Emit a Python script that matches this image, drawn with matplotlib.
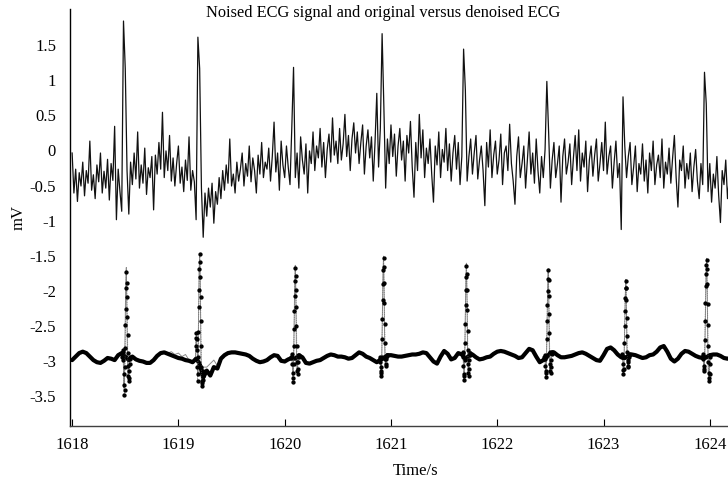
import numpy as np
import matplotlib
matplotlib.use("Agg")
import matplotlib.pyplot as plt

# ---------------- data ----------------
t_start = 1618.0

# noised ECG (top trace), sampled at 60 Hz, mV
noisy_fs = 60.0
noisy_mv = [
    -0.05, -0.62, -0.28, -0.74, -0.33, -0.52, -0.18, -0.66, -0.30, -0.48,
    0.12, -0.58, -0.36, -0.70, -0.22, -0.46, -0.05, -0.62, -0.31, -0.55,
    -0.14, -0.72, -0.20, -0.44, 0.33, -1.00, -0.28, -0.60, -0.88,
    1.83, 1.15, -0.30, -0.92,
    -0.18, -0.50, -0.05, -0.42, 0.25, -0.55, -0.22, -0.48, 0.02, -0.64, -0.26, -0.40, -0.10,
    -0.86, -0.08, -0.35, 0.10, -0.28, 0.53, -0.40, -0.02, -0.30, 0.20, -0.45, -0.12,
    -0.52, -0.20, 0.05, -0.48, -0.25, -0.60, -0.15, -0.44, 0.18, -0.58, -0.30, -0.46, -1.00,
    1.60, 1.15, -0.55, -1.25,
    -0.62, -0.95, -0.55, -0.82, -0.48, -1.05, -0.60, -0.78, -0.40, -0.70,
    -0.30, -0.58, -0.22, -0.48, 0.15, -0.52, -0.35, -0.62, -0.18, -0.45, -0.28,
    -0.05, -0.52, -0.20, -0.38, 0.05, -0.46, -0.12, -0.30, -0.62, -0.08, -0.35, 0.10, -0.40, -0.18, -0.28,
    0.02, -0.45, -0.10, 0.39, -0.32, -0.05, -0.58, 0.12, -0.22, -0.40, 0.05, -0.25, -0.50, 0.30,
    1.17,
    -0.40, -0.05, -0.55, 0.18, -0.15, -0.35, 0.08, -0.62, -0.02, -0.20, 0.25, -0.30, 0.05,
    -0.12, 0.30, -0.25, 0.10, -0.40, 0.00, 0.22, -0.18, 0.45, -0.08, 0.12, -0.20,
    0.30, -0.15, 0.08, 0.50, -0.10, 0.20, -0.30, 0.15, 0.38, -0.05, 0.25, -0.20,
    0.10, 0.35, -0.35, 0.05, 0.28, -0.12, 0.18, -0.45, 0.10, 0.80, -0.25, 0.30,
    1.65, 0.60,
    -0.55, 0.15, -0.20, 0.35, -0.10, 0.22, -0.38, 0.05, 0.30, -0.15, 0.12, -0.45,
    0.20, -0.05, 0.40, -0.25, -0.68, 0.10, -0.30, 0.50, -0.12, 0.28, -0.40, 0.02,
    -0.20, 0.15, -0.35, -0.75, 0.05, -0.22, 0.25, -0.40, 0.00, -0.18,
    0.30, -0.30, 0.08, -0.45, -0.05, 0.20, -0.28, 0.10, -0.50, -0.10,
    1.43, 0.85,
    -0.45, -0.10, 0.15, -0.35, -0.05, 0.20, -0.42, -0.15, 0.05, -0.30, -0.80, 0.10, -0.25, 0.28,
    -0.40, -0.08, 0.12, -0.35, -0.15, 0.22, -0.50, -0.05, 0.05, -0.30, 0.36, -0.20, -0.45, -0.78,
    -0.10, 0.18, -0.40, -0.20, 0.05, -0.55, -0.15, 0.25, -0.35, -0.05, -0.48, 0.15, -0.30,
    -0.62, -0.10, -0.40, 0.00,
    0.97, 0.25,
    -0.55, -0.15, 0.10, -0.40, -0.20, 0.05, -0.75, -0.10, 0.15, -0.35,
    -0.18, 0.08, -0.50, -0.12, 0.20, -0.30, 0.28, -0.45, -0.05, -0.25,
    0.12, -0.60, -0.15, 0.05, -0.38, -0.08, 0.15, -0.45, -0.20, 0.10,
    -0.30, 0.39, -0.35, -0.10, 0.05, -0.55, -0.18, 0.12, -0.40, -0.20,
    -1.14,
    0.75, 0.05,
    -0.40, -0.10, 0.10, -0.50, -0.25, 0.05, -0.60, -0.20, -0.35, 0.08, -0.45,
    -0.15, -0.62, -0.05, -0.30, 0.12, -0.50, -0.22, -0.08, -0.40, 0.15, -0.55,
    -0.18, -0.35, 0.02, -0.48, -0.12, 0.20, -0.40, -0.82, -0.15, -0.30, 0.05,
    -0.55, -0.20, -0.42, -0.05, -0.60, -0.25, 0.00, -0.45, -0.70, -0.20, -0.50,
    1.10, 0.65, -0.60,
    -0.20, -0.75, -0.35, -0.55, -0.10, -0.65, -1.04, -0.30, -0.50, -0.15, -0.70, -0.40, -0.80,
]

# lower traces: slow baseline at 30 Hz (mV, already offset by -3 mV)
base_fs = 30.0
denoised_base = [
    -3.00, -2.95, -2.90, -2.88, -2.90, -2.95, -3.00, -3.03, -3.04, -3.01,
    -2.97, -2.98, -3.00, -2.93, -2.90, -2.95, -3.00, -2.95, -2.99, -3.01,
    -3.02, -3.04, -3.04, -3.00, -2.94, -2.90, -2.89, -2.91, -2.93, -2.95,
    -2.97, -2.98, -3.00, -3.01, -3.03, -2.98, -3.05, -3.25, -3.15, -3.22,
    -3.10, -3.12, -2.98, -2.93, -2.90, -2.89, -2.89, -2.90, -2.91, -2.92,
    -2.94, -2.98, -3.01, -3.03, -3.02, -3.00, -2.96, -2.93, -2.94, -3.01,
    -3.02, -2.99, -2.97, -2.98, -2.93, -2.96, -3.04, -3.05, -3.03, -3.01,
    -3.00, -2.97, -2.94, -2.92, -2.93, -2.95, -2.95, -2.96, -2.98, -2.97,
    -2.93, -2.89, -2.91, -2.95, -2.97, -3.00, -3.03, -3.00, -2.97, -2.93,
    -2.93, -2.94, -2.95, -2.95, -2.94, -2.93, -2.92, -2.92, -2.91, -2.89,
    -2.90, -2.96, -3.02, -3.05, -2.95, -2.87, -2.91, -2.99, -2.97, -2.90,
    -2.92, -2.98, -2.94, -2.92, -2.96, -2.99, -2.98, -2.96, -2.95, -2.91,
    -2.88, -2.87, -2.88, -2.90, -2.92, -2.94, -2.97, -2.96, -2.90, -2.84,
    -2.86, -2.95, -3.03, -3.00, -2.95, -2.90, -2.89, -2.93, -2.96, -2.96,
    -2.95, -2.94, -2.92, -2.90, -2.89, -2.91, -2.94, -2.97, -3.00, -3.01,
    -2.93, -2.84, -2.82, -2.86, -2.92, -2.96, -2.97, -2.94, -2.92, -2.93,
    -2.95, -2.97, -2.96, -2.93, -2.92, -2.88, -2.82, -2.80, -2.88, -2.98,
    -3.02, -2.98, -2.91, -2.87, -2.88, -2.91, -2.94, -2.96, -2.97, -2.96,
    -2.93, -2.92, -2.92, -2.94, -2.97, -2.98, -2.97,
]
original_base = [
    -3.02, -2.96, -2.91, -2.87, -2.91, -2.94, -3.01, -3.02, -3.05, -3.00,
    -2.96, -2.99, -2.99, -2.92, -2.88, -2.97, -3.01, -2.94, -3.00, -3.00,
    -3.03, -3.03, -3.05, -2.99, -2.95, -2.89, -2.90, -2.90, -2.88, -2.92,
    -2.90, -2.95, -2.92, -3.00, -3.02, -2.96, -3.04, -3.22, -3.10, -3.05,
    -3.00, -3.08, -2.95, -2.92, -2.91, -2.88, -2.90, -2.89, -2.92, -2.91,
    -2.95, -2.97, -3.02, -3.02, -3.03, -2.99, -2.97, -2.92, -2.95, -3.00,
    -3.03, -2.98, -2.98, -2.99, -2.92, -2.97, -3.03, -3.06, -3.02, -3.02,
    -2.99, -2.98, -2.93, -2.93, -2.92, -2.96, -2.94, -2.97, -2.97, -2.98,
    -2.92, -2.90, -2.90, -2.96, -2.96, -3.01, -3.02, -3.01, -2.96, -2.94,
    -2.92, -2.95, -2.94, -2.96, -2.93, -2.94, -2.91, -2.93, -2.90, -2.90,
    -2.91, -2.95, -3.03, -3.04, -2.96, -2.88, -2.90, -3.00, -2.96, -2.91,
    -2.93, -2.97, -2.95, -2.91, -2.97, -2.98, -2.99, -2.95, -2.96, -2.90,
    -2.89, -2.86, -2.89, -2.89, -2.93, -2.93, -2.98, -2.95, -2.91, -2.85,
    -2.87, -2.94, -3.02, -3.01, -2.94, -2.91, -2.88, -2.94, -2.95, -2.97,
    -2.94, -2.95, -2.91, -2.91, -2.88, -2.92, -2.93, -2.98, -2.99, -3.02,
    -2.92, -2.85, -2.81, -2.87, -2.91, -2.97, -2.96, -2.95, -2.91, -2.94,
    -2.94, -2.98, -2.95, -2.94, -2.91, -2.89, -2.83, -2.79, -2.89, -2.97,
    -3.03, -2.97, -2.92, -2.86, -2.89, -2.90, -2.95, -2.95, -2.98, -2.95,
    -2.94, -2.91, -2.93, -2.93, -2.98, -2.97, -2.98,
]

# QRS complexes of the lower traces
beat_r_times = [1618.51, 1619.20, 1620.10, 1620.93, 1621.71, 1622.48, 1623.21, 1623.97]
qrs_den_fs = 360.0
qrs_den_r_index = 14
qrs_denoised = [
    [-2.95, -2.90, -2.85, -2.88, -3.00, -3.20, -3.35, -3.50, -3.42, -3.10, -2.83, -2.50, -2.27, -1.98,
     -1.75, -1.90, -2.10, -2.38, -2.64, -2.90, -3.08, -3.22, -3.30, -3.25, -3.15, -3.05, -2.98, -2.95],
    [-2.98, -2.80, -2.68, -2.62, -2.70, -2.85, -3.10, -3.30, -3.20, -2.95, -2.60, -2.25, -2.00, -1.70,
     -1.49, -1.60, -1.82, -2.10, -2.45, -2.80, -3.10, -3.30, -3.37, -3.32, -3.22, -3.28, -3.20, -3.15],
    [-2.97, -2.95, -2.92, -2.96, -3.05, -3.18, -3.31, -3.25, -3.05, -2.80, -2.55, -2.30, -2.08, -1.88,
     -1.69, -1.80, -2.00, -2.25, -2.52, -2.80, -3.02, -3.15, -3.20, -3.12, -3.02, -2.96, -2.94, -2.93],
    [-3.00, -2.98, -2.96, -3.02, -3.10, -3.18, -3.22, -3.15, -2.95, -2.70, -2.42, -2.15, -1.92, -1.72,
     -1.55, -1.68, -1.90, -2.18, -2.48, -2.75, -2.98, -3.08, -3.05, -2.98, -2.95, -2.94, -2.93, -2.93],
    [-2.92, -2.90, -2.88, -2.95, -3.08, -3.20, -3.29, -3.22, -3.00, -2.75, -2.48, -2.22, -2.00, -1.82,
     -1.66, -1.78, -2.00, -2.28, -2.58, -2.85, -3.05, -3.18, -3.22, -3.12, -3.00, -2.93, -2.90, -2.90],
    [-2.98, -2.96, -2.93, -2.98, -3.08, -3.18, -3.24, -3.15, -2.95, -2.70, -2.45, -2.22, -2.02, -1.85,
     -1.72, -1.86, -2.08, -2.35, -2.62, -2.88, -3.05, -3.15, -3.18, -3.10, -3.00, -2.92, -2.88, -2.88],
    [-2.96, -2.94, -2.92, -2.96, -3.05, -3.14, -3.20, -3.12, -2.95, -2.75, -2.52, -2.30, -2.12, -1.98,
     -1.88, -1.98, -2.15, -2.40, -2.65, -2.88, -3.02, -3.10, -3.08, -3.00, -2.95, -2.93, -2.92, -2.92],
    [-2.96, -2.94, -2.92, -2.98, -3.08, -3.15, -3.12, -2.95, -2.72, -2.45, -2.18, -1.95, -1.78, -1.65,
     -1.57, -1.70, -1.92, -2.20, -2.50, -2.80, -3.02, -3.18, -3.25, -3.30, -3.20, -3.05, -2.96, -2.93],
]
qrs_orig_fs = 180.0
qrs_orig_r_index = 7
qrs_original = [
    [-2.95, -2.90, -3.05, -3.40, -3.20, -2.60, -1.90, -1.68, -2.30, -3.00, -3.28, -3.15, -3.00, -2.95],
    [-2.95, -2.70, -2.82, -2.82, -3.20, -2.40, -1.75, -1.50, -1.90, -2.80, -3.35, -3.30, -3.20, -3.10],
    [-2.96, -2.94, -3.05, -3.28, -3.10, -2.50, -1.90, -1.65, -2.20, -2.90, -3.18, -3.05, -2.95, -2.93],
    [-3.00, -2.97, -3.08, -3.20, -3.00, -2.40, -1.80, -1.52, -2.05, -2.80, -3.08, -3.00, -2.95, -2.93],
    [-2.92, -2.90, -3.05, -3.27, -3.05, -2.45, -1.85, -1.62, -2.15, -2.90, -3.20, -3.05, -2.93, -2.90],
    [-2.97, -2.95, -3.05, -3.22, -3.00, -2.45, -1.95, -1.70, -2.25, -2.92, -3.16, -3.02, -2.92, -2.88],
    [-2.95, -2.93, -3.02, -3.18, -3.00, -2.55, -2.10, -1.85, -2.30, -2.90, -3.08, -2.98, -2.93, -2.92],
    [-2.95, -2.93, -3.05, -3.14, -2.90, -2.30, -1.80, -1.55, -2.00, -2.80, -3.22, -3.28, -3.05, -2.93],
]

x_ticks = [1618, 1619, 1620, 1621, 1622, 1623, 1624]
y_ticks = [1.5, 1, 0.5, 0, -0.5, -1, -1.5, -2, -2.5, -3, -3.5]
y_ticklabels = ["1.5", "1", "0.5", "0", "-0.5", "-1", "-1.5", "-2", "-2.5", "-3", "-3.5"]
title_text = "Noised ECG signal and original versus denoised ECG"
x_label = "Time/s"
y_label = "mV"

# ---------------- helpers ----------------
def seg_times(r_time, fs, r_index, n):
    return r_time + (np.arange(n) - r_index) / fs


def merge(base_t, base_v, segs_t, segs_v):
    keep = np.ones(len(base_t), bool)
    for st in segs_t:
        keep &= ~((base_t >= st[0]) & (base_t <= st[-1]))
    T = np.concatenate([base_t[keep]] + segs_t)
    V = np.concatenate([np.asarray(base_v)[keep]] + [np.asarray(s) for s in segs_v])
    o = np.argsort(T)
    return T[o], V[o]


# ---------------- figure ----------------
plt.rcParams["font.family"] = ["Liberation Serif", "DejaVu Serif"]
fig = plt.figure(figsize=(7.28, 4.81), dpi=100)
ax = fig.add_axes([70 / 728, 1 - 427 / 481, 1 - 70 / 728, (427 - 10) / 481])

t_noisy = t_start + np.arange(len(noisy_mv)) / noisy_fs
ax.plot(t_noisy, noisy_mv, color="#111111", lw=0.9, zorder=3)

t_base = t_start + np.arange(len(denoised_base)) / base_fs

# original ECG (thin grey)
o_segs_t = [seg_times(r, qrs_orig_fs, qrs_orig_r_index, len(s)) for r, s in zip(beat_r_times, qrs_original)]
T_o, V_o = merge(t_base, original_base, o_segs_t, qrs_original)
ax.plot(T_o, V_o, color="0.55", lw=0.7, zorder=2)

# denoised ECG (black dots, forming a thick trace)
ax.plot(t_base, denoised_base, color="black", lw=3.0, solid_capstyle="round",
        solid_joinstyle="round", zorder=4)
for r, s in zip(beat_r_times, qrs_denoised):
    ts = seg_times(r, qrs_den_fs, qrs_den_r_index, len(s))
    ax.plot(ts, s, linestyle=":", color="0.45", lw=0.6, marker=".", markersize=4.2,
            markerfacecolor="black", markeredgecolor="black", zorder=5)

ax.set_xlim(1617.98, 1618 + (728 - 72) / 106.3)
ax.set_ylim((150.5 - 427) / 70.2, (150.5 - 10) / 70.2)

ax.set_xticks(x_ticks)
ax.set_xticklabels([str(v) for v in x_ticks])
ax.set_yticks(y_ticks)
ax.set_yticklabels(y_ticklabels)
ax.tick_params(axis="x", direction="in", length=5, width=0.8, pad=7, labelsize=12)
ax.tick_params(axis="y", length=0, pad=10, labelsize=12)

for side in ("top", "right"):
    ax.spines[side].set_visible(False)
ax.spines["left"].set_linewidth(1.0)
ax.spines["bottom"].set_linewidth(1.0)
ax.spines["bottom"].set_color("0.25")
ax.patch.set_visible(False)

fig.text(383.5 / 728, 1 - 13 / 481, title_text, ha="center", va="center", fontsize=11.8)
fig.text(19 / 728, 1 - 218 / 481, y_label, ha="center", va="center", rotation=90, fontsize=12)
fig.text(416 / 728, 1 - 471 / 481, x_label, ha="center", va="center", fontsize=12)

fig.savefig("out.png", dpi=100)
